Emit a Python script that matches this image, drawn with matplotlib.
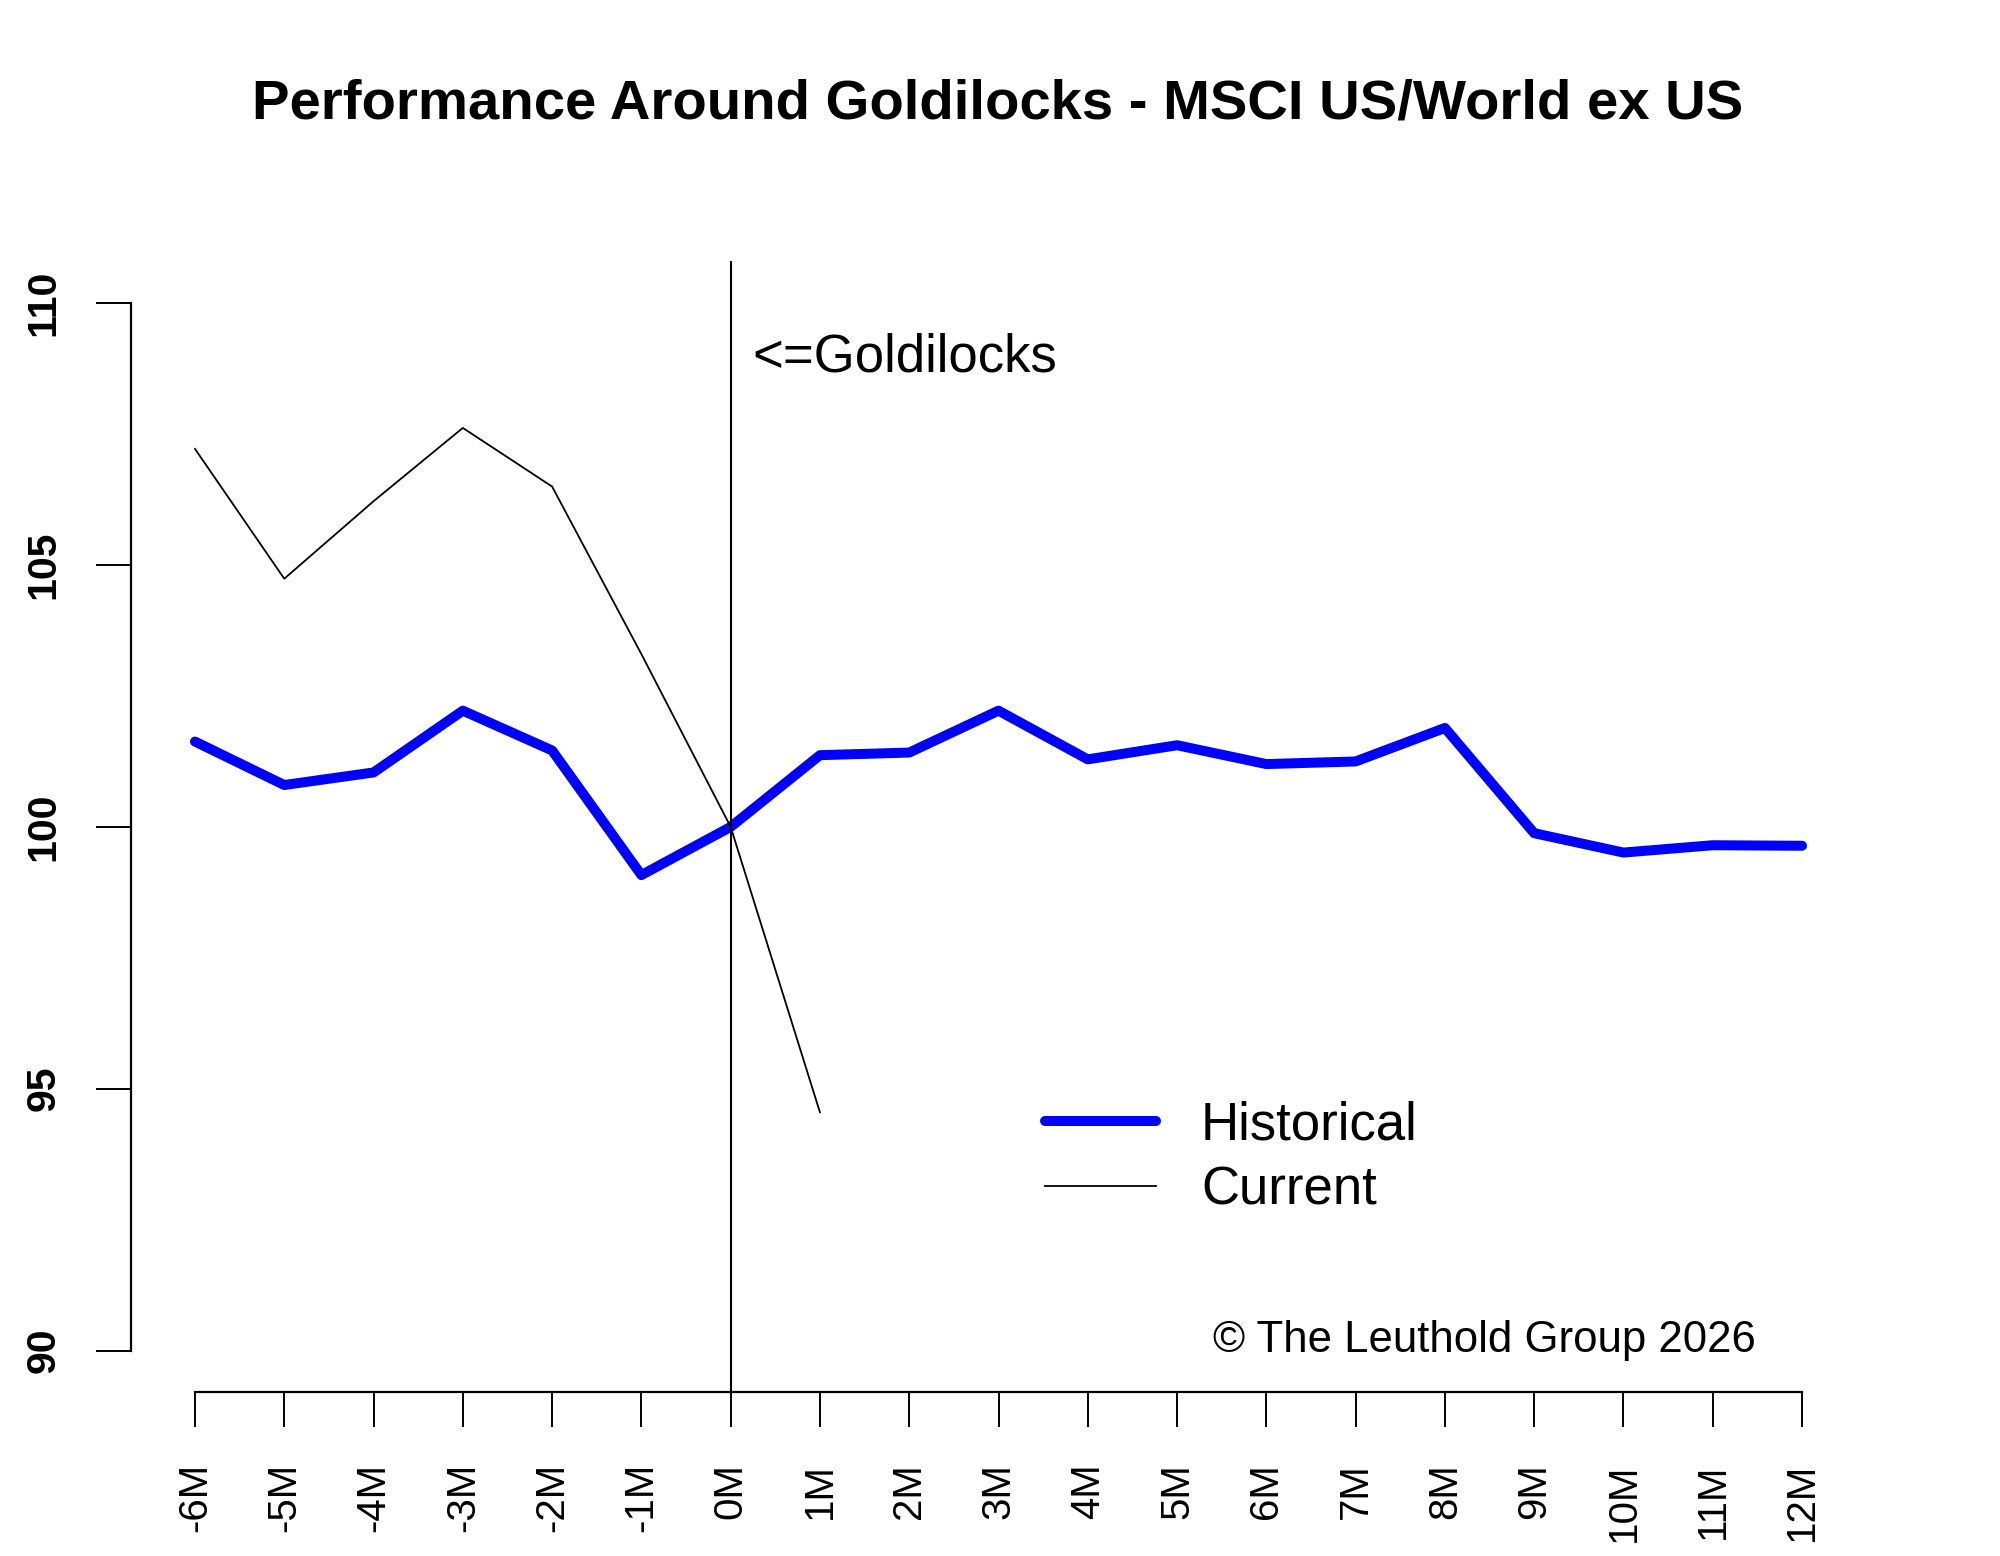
import matplotlib
matplotlib.use("Agg")
import matplotlib.pyplot as plt

months = [-6, -5, -4, -3, -2, -1, 0, 1, 2, 3, 4, 5, 6, 7, 8, 9, 10, 11, 12]
month_labels = [f"{m}M" for m in months]

historical = [101.63, 100.80, 101.04, 102.22, 101.46, 99.08, 100.00, 101.37, 101.42,
              102.22, 101.29, 101.56, 101.20, 101.25, 101.89, 99.88, 99.51, 99.65, 99.64]

current_months = [-6, -5, -4, -3, -2, -1, 0, 1]
current = [107.22, 104.74, 106.22, 107.62, 106.50, 103.30, 100.00, 94.55]

y_ticks = [90, 95, 100, 105, 110]

plt.rcParams['font.family'] = ['Liberation Sans', 'DejaVu Sans']

fig = plt.figure(figsize=(20, 15.56), dpi=100)
ax = fig.add_axes([0.06535, 0.10514, 0.8678, 0.72686])

ax.plot(months, historical, color="#0000ff", lw=7.2, solid_capstyle="round",
        solid_joinstyle="round", label="Historical")
ax.plot(current_months, current, color="black", lw=1.3, label="Current")
ax.axvline(0, color="black", lw=1.5)

ax.set_xlim(-6.72, 12.72)
ax.set_ylim(89.2, 110.8)

for side in ["top", "right"]:
    ax.spines[side].set_visible(False)
ax.spines["left"].set_bounds(90, 110)
ax.spines["bottom"].set_bounds(-6, 12)
ax.spines["left"].set_linewidth(1.6)
ax.spines["bottom"].set_linewidth(1.6)

ax.set_yticks(y_ticks)
ax.set_yticklabels([str(v) for v in y_ticks], rotation=90, va="center",
                   fontsize=29.5, fontweight="bold")
ax.set_xticks(months)
ax.set_xticklabels(month_labels, rotation=90, fontsize=29)
ax.tick_params(axis="y", length=25, width=1.4, pad=24)
ax.tick_params(axis="x", length=25, width=1.4, pad=26)

ax.text(0.358, 0.9024, "<=Goldilocks", transform=ax.transAxes, fontsize=38,
        ha="left", va="baseline")
ax.text(0.6237, 0.0353, "\u00a9 The Leuthold Group 2026", transform=ax.transAxes,
        fontsize=31.5, ha="left", va="baseline")

ax.legend(loc="upper left", bbox_to_anchor=(0.5269, 0.2585), frameon=False,
          fontsize=38, borderpad=0, borderaxespad=0, handlelength=2.1,
          handletextpad=0.85, labelspacing=0.3)

fig.text(0.499, 1 - 118.3 / 1556, "Performance Around Goldilocks - MSCI US/World ex US",
         ha="center", va="baseline", fontsize=40.5, fontweight="bold")

fig.savefig("out.png", dpi=100)
